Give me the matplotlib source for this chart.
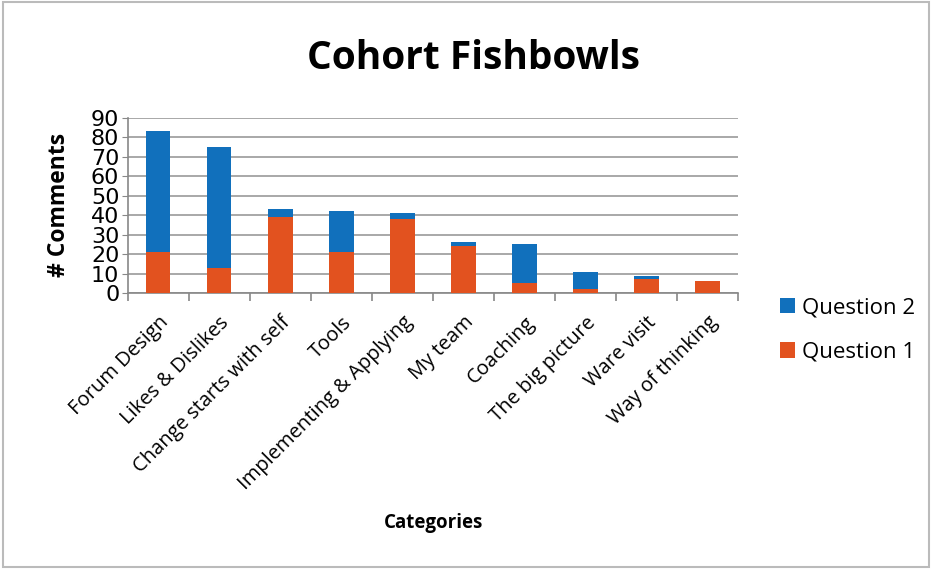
import numpy as np
import matplotlib.pyplot as plt
from matplotlib.patches import Rectangle

plt.rcParams['font.family'] = 'Open Sans'

categories = ['Forum Design', 'Likes & Dislikes', 'Change starts with self', 'Tools',
              'Implementing & Applying', 'My team', 'Coaching', 'The big picture',
              'Ware visit', 'Way of thinking']
question1 = [21, 13, 39, 21, 38, 24, 5, 2, 7, 6]
question2 = [62, 62, 4, 21, 3, 2, 20, 9, 2, 0]

blue = '#1170BC'
red = '#E2521F'

fig = plt.figure(figsize=(9.32, 5.69), dpi=100)
ax = fig.add_axes([0.137, 0.485, 0.655, 0.308])

x = np.arange(len(categories))
ax.bar(x, question1, width=0.4, color=red, label='Question 1', zorder=3)
ax.bar(x, question2, width=0.4, bottom=question1, color=blue, label='Question 2', zorder=3)

ax.set_xlim(-0.5, len(categories) - 0.5)
ax.set_ylim(0, 90)
ax.set_yticks(range(0, 91, 10))
ax.tick_params(axis='y', labelsize=16, length=4, color='#888888', pad=2)
ax.set_yticklabels([str(v) for v in range(0, 91, 10)], family='DejaVu Sans')
ax.yaxis.grid(True, color='#999999', linewidth=1.2, zorder=0)

ax.set_xticks(x)
ax.set_xticklabels(categories, rotation=45, ha='right', rotation_mode='anchor', fontsize=14.5)
ax.tick_params(axis='x', length=0, pad=14)
ax.set_xticks(np.arange(-0.5, len(categories)), minor=True)
ax.tick_params(axis='x', which='minor', length=6, color='#888888', width=1.2)

for side in ['top', 'right']:
    ax.spines[side].set_visible(False)
ax.spines['left'].set_color('#888888')
ax.spines['bottom'].set_color('#888888')
ax.spines['left'].set_linewidth(1.2)
ax.spines['bottom'].set_linewidth(1.2)

ax.set_ylabel('# Comments', fontsize=16.5, fontweight='bold', labelpad=14)
fig.text(0.465, 0.08, 'Categories', fontsize=13.5, fontweight='bold', ha='center', va='center')
fig.text(0.508, 0.897, 'Cohort Fishbowls', fontsize=28, fontweight='bold', ha='center', va='center')

handles, labels = ax.get_legend_handles_labels()
fig.legend(handles[::-1], labels[::-1], loc='center left', bbox_to_anchor=(0.815, 0.42),
           frameon=False, fontsize=16, handlelength=0.7, handleheight=0.7,
           handletextpad=0.3, labelspacing=1.05)

fig.patches.append(Rectangle((0.003, 0.004), 0.994, 0.992, transform=fig.transFigure,
                             fill=False, edgecolor='#BBBBBB', linewidth=1.5))

plt.savefig('out.png', dpi=100)
